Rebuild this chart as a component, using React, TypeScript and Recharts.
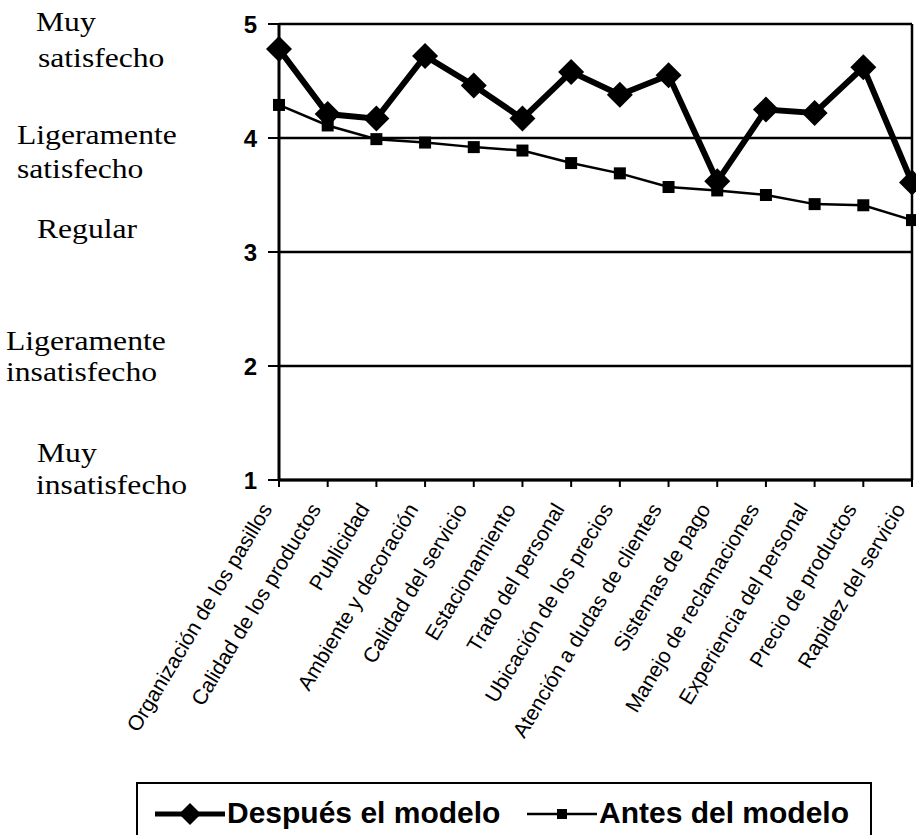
import React from "react";
import { LineChart, Line, XAxis, YAxis, CartesianGrid, ReferenceLine } from "recharts";

const categories = [
  "Organización de los pasillos",
  "Calidad de los productos",
  "Publicidad",
  "Ambiente y decoración",
  "Calidad del servicio",
  "Estacionamiento",
  "Trato del personal",
  "Ubicación de los precios",
  "Atención a dudas de clientes",
  "Sistemas de pago",
  "Manejo de reclamaciones",
  "Experiencia del personal",
  "Precio de productos",
  "Rapidez del servicio",
];
const despues = [4.78, 4.21, 4.17, 4.72, 4.46, 4.17, 4.58, 4.38, 4.55, 3.62, 4.25, 4.22, 4.62, 3.61];
const antes = [4.29, 4.11, 3.99, 3.96, 3.92, 3.89, 3.78, 3.69, 3.57, 3.54, 3.5, 3.42, 3.41, 3.28];
const yTicks = [1, 2, 3, 4, 5];
const scaleLabels = [
  "Muy", "satisfecho",
  "Ligeramente", "satisfecho",
  "Regular",
  "Ligeramente", "insatisfecho",
  "Muy", "insatisfecho",
];
const seriesNames = ["Después el modelo", "Antes del modelo"];

const data = categories.map((name, i) => ({ name, despues: despues[i], antes: antes[i] }));

// where each scale label line sits (x, baseline)
const labelPos = [
  [36, 31], [38, 67],
  [17, 144], [17, 178],
  [37, 238],
  [6, 350], [6, 381],
  [37, 462], [36, 494],
];

const SANS = "'Liberation Sans', Arial, sans-serif";
const SERIF = "'Liberation Serif', 'Times New Roman', serif";

const Diamond = (props: any) => {
  const { cx, cy, index } = props;
  const r = 13;
  return (
    <polygon key={index} points={`${cx},${cy - r} ${cx + r},${cy} ${cx},${cy + r} ${cx - r},${cy}`} fill="#000" />
  );
};

const Square = (props: any) => {
  const { cx, cy, index } = props;
  return <rect key={index} x={cx - 6} y={cy - 6} width={12} height={12} fill="#000" />;
};

const CatTick = ({ x, y, payload }: any) => {
  const tx = x - 6;
  const ty = y + 20;
  return (
    <text x={tx} y={ty} transform={`rotate(-59, ${tx}, ${ty})`} textAnchor="end"
      fontSize={21} fontFamily={SANS} fill="#000">
      {payload.value}
    </text>
  );
};

export default function App() {
  return (
    <div style={{ position: "absolute", left: 0, top: 0, width: 916, height: 835, overflow: "hidden", background: "#fff" }}>
      <LineChart width={916} height={835} data={data}
        margin={{ top: 24, right: 4, left: 219, bottom: 295 }}>
        <CartesianGrid vertical={false} stroke="#000" strokeWidth={2.5} />
        <XAxis dataKey="name" interval={0} height={60} tick={<CatTick />}
          axisLine={{ stroke: "#000", strokeWidth: 3 }} tickLine={{ stroke: "#000", strokeWidth: 2 }} tickSize={7} />
        <YAxis domain={[1, 5]} ticks={yTicks} width={60} tickSize={11} tickMargin={11}
          axisLine={{ stroke: "#000", strokeWidth: 3 }} tickLine={{ stroke: "#000", strokeWidth: 2 }}
          tick={{ fill: "#000", fontSize: 24, fontWeight: 700, fontFamily: SANS }} />
        <ReferenceLine x={categories[categories.length - 1]} stroke="#000" strokeWidth={2.5} />
        <Line dataKey="antes" stroke="#000" strokeWidth={2.5} dot={Square} isAnimationActive={false} />
        <Line dataKey="despues" stroke="#000" strokeWidth={6} dot={Diamond} isAnimationActive={false} />
      </LineChart>

      <svg width={916} height={835} style={{ position: "absolute", left: 0, top: 0, pointerEvents: "none" }}>
        {scaleLabels.map((t, i) => (
          <text key={i} x={labelPos[i][0]} y={labelPos[i][1]} fontFamily={SERIF} fontSize={28}
            transform={`translate(${labelPos[i][0]},0) scale(1.13,1) translate(${-labelPos[i][0]},0)`} fill="#000">{t}</text>
        ))}
        {/* legend */}
        <rect x={137} y={783} width={734} height={80} fill="#fff" stroke="#000" strokeWidth={2} />
        <line x1={155} x2={225} y1={814} y2={814} stroke="#000" strokeWidth={5} />
        <polygon points="190,803 201,814 190,825 179,814" fill="#000" />
        <text x={227} y={823} fontFamily={SANS} fontWeight={700} fontSize={30} fill="#000">{seriesNames[0]}</text>
        <line x1={527} x2={597} y1={814} y2={814} stroke="#000" strokeWidth={2.5} />
        <rect x={557} y={809} width={10} height={10} fill="#000" />
        <text x={599} y={823} fontFamily={SANS} fontWeight={700} fontSize={30} fill="#000">{seriesNames[1]}</text>
      </svg>
    </div>
  );
}
